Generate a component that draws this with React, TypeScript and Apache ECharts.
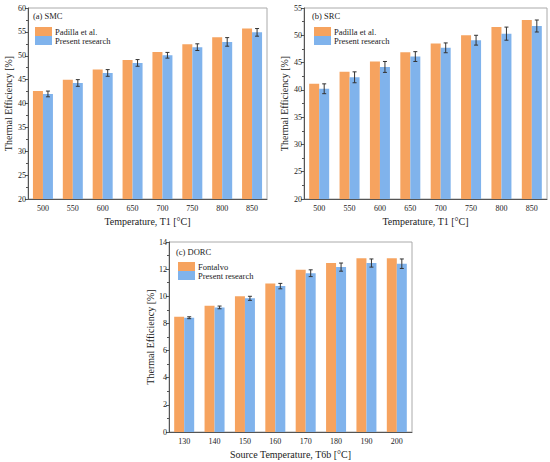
import React, { useEffect, useRef } from "react";
import * as echarts from "echarts";

const categoriesT1 = ["500", "550", "600", "650", "700", "750", "800", "850"];
const categoriesT6b = ["130", "140", "150", "160", "170", "180", "190", "200"];

const smcPadilla = [42.6, 45.0, 47.1, 49.1, 50.8, 52.4, 53.9, 55.7];
const smcPresent = [42.0, 44.3, 46.4, 48.5, 50.1, 51.8, 52.9, 54.9];
const smcErr = [0.6, 0.7, 0.7, 0.7, 0.6, 0.7, 0.9, 0.8];

const srcPadilla = [41.1, 43.3, 45.2, 46.9, 48.5, 50.0, 51.5, 52.8];
const srcPresent = [40.2, 42.3, 44.2, 46.1, 47.7, 49.1, 50.3, 51.7];
const srcErr = [0.9, 1.0, 1.0, 0.9, 0.9, 0.9, 1.2, 1.1];

const dorcFontalvo = [8.5, 9.3, 10.0, 10.95, 11.95, 12.45, 12.8, 12.8];
const dorcPresent = [8.42, 9.18, 9.85, 10.75, 11.7, 12.15, 12.45, 12.4];
const dorcErr = [0.07, 0.1, 0.15, 0.2, 0.25, 0.3, 0.3, 0.35];

const panelLabels = ["(a) SMC", "(b) SRC", "(c) DORC"];
const seriesNames = { padilla: "Padilla et al.", fontalvo: "Fontalvo", present: "Present research" };

const FONT = "'Liberation Serif', 'Times New Roman', serif";
const ORANGE = "#F6A35F";
const BLUE = "#80B3EC";
const BAR_W = 10;

function errRender(params: any, api: any) {
  const x = api.value(0);
  const y = api.value(1);
  const e = api.value(2);
  const hi = api.coord([x, y + e]);
  const lo = api.coord([x, y - e]);
  const cx = hi[0] + BAR_W / 2;
  const style = { stroke: "#333", lineWidth: 1 };
  return {
    type: "group",
    children: [
      { type: "line", shape: { x1: cx, y1: hi[1], x2: cx, y2: lo[1] }, style },
      { type: "line", shape: { x1: cx - 2, y1: hi[1], x2: cx + 2, y2: hi[1] }, style },
      { type: "line", shape: { x1: cx - 2, y1: lo[1], x2: cx + 2, y2: lo[1] }, style },
    ],
  };
}

function xAxisCfg(gridIndex: number, data: string[], name: string) {
  return {
    type: "category",
    gridIndex,
    data,
    name,
    nameLocation: "middle",
    nameGap: 17,
    nameTextStyle: { fontFamily: FONT, fontSize: 10, color: "#222" },
    axisLine: { show: true, lineStyle: { color: "#555", width: 1 } },
    axisTick: { show: false },
    axisLabel: { fontFamily: FONT, fontSize: 8, color: "#222", margin: 5 },
    splitLine: { show: false },
  };
}

function yAxisCfg(gridIndex: number, min: number, max: number, interval: number, nameGap: number) {
  return {
    type: "value",
    gridIndex,
    min,
    max,
    interval,
    name: "Thermal Efficiency [%]",
    nameLocation: "middle",
    nameGap,
    nameTextStyle: { fontFamily: FONT, fontSize: 10, color: "#222" },
    axisLine: { show: true, lineStyle: { color: "#555", width: 1 } },
    axisTick: { show: true, length: 3, lineStyle: { color: "#555" } },
    minorTick: { show: true, splitNumber: 2, length: 2, lineStyle: { color: "#555" } },
    axisLabel: { fontFamily: FONT, fontSize: 8, color: "#222", margin: 2 },
    splitLine: { show: false },
  };
}

function barSeries(name: string, color: string, xi: number, data: number[]) {
  return {
    type: "bar",
    name,
    xAxisIndex: xi,
    yAxisIndex: xi,
    data,
    barWidth: BAR_W,
    barGap: "0%",
    itemStyle: { color },
  };
}

function errSeries(name: string, xi: number, vals: number[], errs: number[]) {
  return {
    type: "custom",
    name,
    xAxisIndex: xi,
    yAxisIndex: xi,
    renderItem: errRender,
    encode: { x: 0, y: 1 },
    data: vals.map((v, i) => [i, v, errs[i]]),
    z: 10,
    silent: true,
  };
}

function legendCfg(left: number, top: number, names: string[]) {
  return {
    orient: "vertical",
    left,
    top,
    padding: 0,
    itemGap: 0,
    itemWidth: 17,
    itemHeight: 9,
    icon: "rect",
    data: names,
    selectedMode: false,
    textStyle: { fontFamily: FONT, fontSize: 8.5, color: "#222", padding: [0, 0, 0, -2] },
  };
}

export default function App() {
  const ref = useRef<HTMLDivElement>(null);
  useEffect(() => {
    if (!ref.current) return;
    const chart = echarts.init(ref.current, null, { renderer: "svg" });
    const gridStyle = { show: true, borderColor: "#aaa", borderWidth: 1, backgroundColor: "transparent" };
    chart.setOption({
      animation: false,
      backgroundColor: "#fff",
      grid: [
        { left: 28, top: 8, width: 239, height: 191, ...gridStyle },
        { left: 304, top: 8, width: 243, height: 191, ...gridStyle },
        { left: 169, top: 242, width: 243, height: 190, ...gridStyle },
      ],
      xAxis: [
        xAxisCfg(0, categoriesT1, "Temperature, T1 [°C]"),
        xAxisCfg(1, categoriesT1, "Temperature, T1 [°C]"),
        xAxisCfg(2, categoriesT6b, "Source Temperature, T6b [°C]"),
      ],
      yAxis: [
        yAxisCfg(0, 20, 60, 5, 15),
        yAxisCfg(1, 20, 55, 5, 15),
        yAxisCfg(2, 0, 14, 2, 13),
      ],
      legend: [
        legendCfg(35, 27, [seriesNames.padilla, seriesNames.present]),
        legendCfg(314, 27, [seriesNames.padilla, seriesNames.present]),
        legendCfg(178, 262, [seriesNames.fontalvo, seriesNames.present]),
      ],
      graphic: [
        { type: "text", left: 33, top: 11, style: { text: panelLabels[0], font: `8.5px ${FONT}`, fill: "#222" } },
        { type: "text", left: 312, top: 11, style: { text: panelLabels[1], font: `8.5px ${FONT}`, fill: "#222" } },
        { type: "text", left: 176, top: 247, style: { text: panelLabels[2], font: `8.5px ${FONT}`, fill: "#222" } },
      ],
      series: [
        barSeries(seriesNames.padilla, ORANGE, 0, smcPadilla),
        barSeries(seriesNames.present, BLUE, 0, smcPresent),
        errSeries("err-a", 0, smcPresent, smcErr),
        barSeries(seriesNames.padilla, ORANGE, 1, srcPadilla),
        barSeries(seriesNames.present, BLUE, 1, srcPresent),
        errSeries("err-b", 1, srcPresent, srcErr),
        barSeries(seriesNames.fontalvo, ORANGE, 2, dorcFontalvo),
        barSeries(seriesNames.present, BLUE, 2, dorcPresent),
        errSeries("err-c", 2, dorcPresent, dorcErr),
      ],
    });
    return () => chart.dispose();
  }, []);
  return (
    <div
      ref={ref}
      style={{ position: "fixed", left: 0, top: 0, width: 550, height: 462, background: "#fff" }}
    />
  );
}
